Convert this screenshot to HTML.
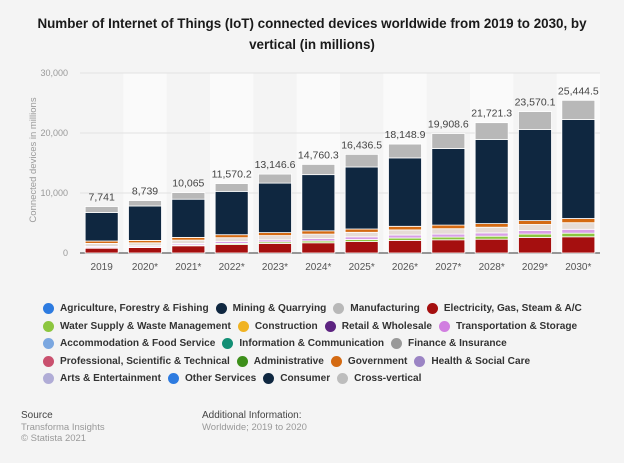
<!DOCTYPE html>
<html><head><meta charset="utf-8">
<style>
body{margin:0;width:624px;height:463px;background:#f4f4f4;font-family:"Liberation Sans",sans-serif;overflow:hidden;position:relative}
.title{position:absolute;left:0;width:624px;top:13px;text-align:center;font-weight:bold;font-size:13.4px;line-height:21px;color:#1a1a1a}
.legend{position:absolute;left:43px;top:300px;font-size:10.1px;font-weight:bold;color:#333}
.row{height:17.5px;white-space:nowrap;display:flex;align-items:center}
.li{display:inline-flex;align-items:center;margin-right:7px}
.dot{width:11px;height:11px;border-radius:50%;margin-right:6px;display:inline-block}
.foot{position:absolute;font-size:9.5px;line-height:11.5px;color:#999}
.foot b{font-weight:normal;color:#444;font-size:10px}
</style></head><body>
<div class="title">Number of Internet of Things (IoT) connected devices worldwide from 2019 to 2030, by<br>vertical (in millions)</div>
<svg id="chart" width="624" height="290" style="position:absolute;left:0;top:0"></svg>
<div class="legend">
<div class="row">
<span class="li"><i class="dot" style="background:#2d7be0"></i>Agriculture, Forestry &amp; Fishing</span>
<span class="li"><i class="dot" style="background:#0f2740"></i>Mining &amp; Quarrying</span>
<span class="li"><i class="dot" style="background:#b8b8b8"></i>Manufacturing</span>
<span class="li"><i class="dot" style="background:#a50f0f"></i>Electricity, Gas, Steam &amp; A/C</span></div>
<div class="row">
<span class="li"><i class="dot" style="background:#8cc63f"></i>Water Supply &amp; Waste Management</span>
<span class="li"><i class="dot" style="background:#f0b323"></i>Construction</span>
<span class="li"><i class="dot" style="background:#5c2380"></i>Retail &amp; Wholesale</span>
<span class="li"><i class="dot" style="background:#d17ee0"></i>Transportation &amp; Storage</span></div>
<div class="row">
<span class="li"><i class="dot" style="background:#7ba7e0"></i>Accommodation &amp; Food Service</span>
<span class="li"><i class="dot" style="background:#138f75"></i>Information &amp; Communication</span>
<span class="li"><i class="dot" style="background:#999"></i>Finance &amp; Insurance</span></div>
<div class="row">
<span class="li"><i class="dot" style="background:#c9506e"></i>Professional, Scientific &amp; Technical</span>
<span class="li"><i class="dot" style="background:#3d8f1a"></i>Administrative</span>
<span class="li"><i class="dot" style="background:#d46a12"></i>Government</span>
<span class="li"><i class="dot" style="background:#9b84c4"></i>Health &amp; Social Care</span></div>
<div class="row">
<span class="li"><i class="dot" style="background:#b0acd6"></i>Arts &amp; Entertainment</span>
<span class="li"><i class="dot" style="background:#2d7be0"></i>Other Services</span>
<span class="li"><i class="dot" style="background:#0f2740"></i>Consumer</span>
<span class="li"><i class="dot" style="background:#bdbdbd"></i>Cross-vertical</span></div>
</div>
<div class="foot" style="left:21px;top:410px"><b>Source</b><br>Transforma Insights<br>© Statista 2021</div>
<div class="foot" style="left:202px;top:410px"><b>Additional Information:</b><br>Worldwide; 2019 to 2020</div>
<script>
const categories=["2019","2020*","2021*","2022*","2023*","2024*","2025*","2026*","2027*","2028*","2029*","2030*"];
const totals=[7741,8739,10065,11570.2,13146.6,14760.3,16436.5,18148.9,19908.6,21721.3,23570.1,25444.5];
const totalLabels=["7,741","8,739","10,065","11,570.2","13,146.6","14,760.3","16,436.5","18,148.9","19,908.6","21,721.3","23,570.1","25,444.5"];
const electricity=[800,900,1200,1400,1600,1700,1900,2100,2200,2300,2600,2700];
const waterSupply=[100,100,150,200,250,300,350,400,450,500,550,600];
const transportation=[200,200,250,300,350,400,450,500,500,550,600,650];
const otherVerticals=[500,500,550,650,700,750,750,850,900,950,1000,1100];
const government=[400,400,450,500,500,550,550,600,600,600,650,700];
const crossVertical=[1000,900,1100,1300,1500,1700,2100,2300,2500,2800,3000,3200];
const yTicks=[0,10000,20000,30000];
const yTickLabels=["0","10,000","20,000","30,000"];

const svg=document.getElementById('chart');
const NS='http://www.w3.org/2000/svg';
const L=80,R=600,Y0=253,Y1=73,YMAX=30000;
const step=(R-L)/categories.length;
const bw=33;
const y=v=>Y0-(v/YMAX)*(Y0-Y1);
const xc=i=>L+step*(i+0.5);
function mk(t,a){const e=document.createElementNS(NS,t);for(const k in a)e.setAttribute(k,a[k]);svg.appendChild(e);return e;}
categories.forEach((c,i)=>{if(i%2===1){const b=mk('rect',{x:L+step*i,y:Y1,width:step,height:Y0-Y1,fill:'#fafafa'});

}});
yTicks.forEach((t,k)=>{
 const g=mk('line',{x1:L,x2:R,y1:y(t),y2:y(t),stroke:k===0?'#777':'#e2e2e2','stroke-width':k===0?1.5:1});
 
 
 const tx=mk('text',{x:68,y:y(t)+3,'text-anchor':'end','font-size':'9','fill':'#999'});
 tx.textContent=yTickLabels[k];
 
 
});
const yt=mk('text',{x:0,y:0,'text-anchor':'middle','font-size':'9.5','fill':'#999',transform:'translate(36,160) rotate(-90)'});
yt.textContent='Connected devices in millions';


categories.forEach((c,i)=>{
 const consumer=totals[i]-crossVertical[i]-electricity[i]-waterSupply[i]-transportation[i]-otherVerticals[i]-government[i];
 const segs=[[electricity[i],'#a50f0f'],[waterSupply[i],'#8cc63f'],[transportation[i],'#d9a0e6'],[otherVerticals[i],'#e6dcd6'],[government[i],'#d46a12'],[consumer,'#0f2740'],[crossVertical[i],'#b8b8b8']];
 let acc=0;
 segs.forEach(s=>{
  const r=mk('rect',{x:xc(i)-bw/2,y:y(acc+s[0]),width:bw,height:Math.max(0,y(acc)-y(acc+s[0])),fill:s[1],stroke:'#fff','stroke-width':0.8});
  
  
  acc+=s[0];
 });
 const lb=mk('text',{x:xc(i),y:y(totals[i])-6,'text-anchor':'middle','font-size':'10.5','fill':'#444'});
 lb.textContent=totalLabels[i];
 
 
 const xl=mk('text',{x:xc(i),y:270,'text-anchor':'middle','font-size':'10','fill':'#555'});
 xl.textContent=c;
 
 
});
</script>
</body></html>
